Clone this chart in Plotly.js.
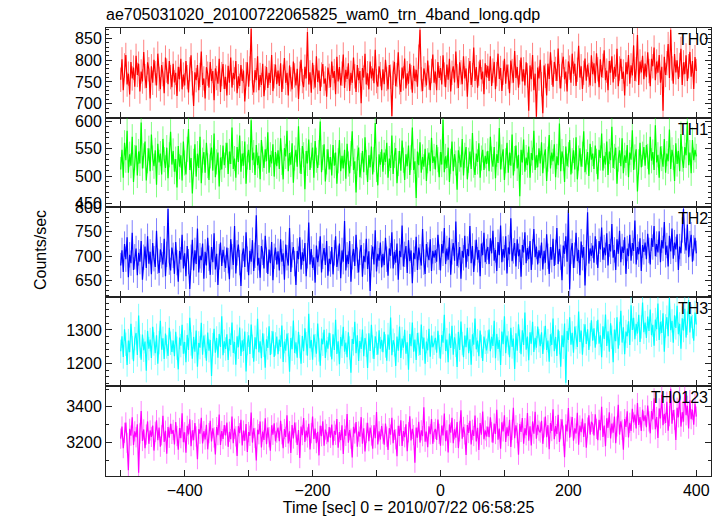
<!DOCTYPE html>
<html>
<head>
<meta charset="utf-8">
<script src="https://cdn.plot.ly/plotly-3.0.1.min.js"></script>
<style>html,body{margin:0;padding:0;background:#fff;}#chart{width:723px;height:516px;}</style>
</head>
<body>
<div id="chart"></div>
<script>
// ---- data: 2-second bins starting at t = -500 s ----
const timeStart = -500;
const binSize = 2;
const panelNames = ["TH0", "TH1", "TH2", "TH3", "TH0123"];

const th0 = [
755,802,731,788,812,744,769,721,796,758,783,739,810,766,792,728,774,751,819,763,736,795,779,712,786,748,801,770,742,815,757,733,789,768,724,806,776,745,798,761,738,
792,749,771,718,785,756,803,733,767,742,798,761,726,779,811,747,695,772,754,789,731,766,820,743,758,712,784,769,737,796,752,775,708,781,759,746,803,727,768,791,734,
762,719,787,748,806,737,771,756,798,724,763,741,789,752,776,705,768,795,739,781,872,748,726,777,754,809,731,766,743,792,717,759,784,736,771,748,812,729,763,790,745,
776,741,793,727,762,805,748,771,719,788,756,733,797,765,742,780,711,769,801,752,738,785,758,865,744,772,725,794,761,737,809,750,776,729,767,791,746,758,716,783,764,
738,797,759,775,722,808,751,784,742,769,813,736,778,757,793,729,771,748,806,763,727,789,754,775,701,782,760,815,744,770,733,797,758,781,747,824,752,739,786,768,731,
779,745,801,757,733,789,762,672,771,796,740,766,818,749,727,783,758,804,735,770,746,792,761,725,787,752,778,739,808,870,756,729,781,766,742,799,760,731,775,813,748,
774,731,796,759,782,744,811,767,738,790,755,803,728,771,786,749,820,763,736,795,772,745,809,758,781,716,777,798,743,766,829,752,784,737,769,801,756,774,722,793,761,
787,752,809,741,776,796,733,768,815,757,782,729,771,803,746,790,762,724,799,775,748,821,759,784,737,772,806,751,779,742,795,765,684,788,756,812,731,769,670,783,758,
801,745,678,788,764,719,792,757,818,771,739,796,780,752,827,763,735,789,808,756,774,728,797,783,748,815,769,792,741,778,833,760,786,734,771,804,753,790,766,742,811,
768,793,747,816,779,738,802,761,787,823,754,776,731,798,771,809,749,785,762,826,740,781,803,757,774,719,795,768,812,746,788,765,834,752,779,858,743,797,772,810,756,
792,761,818,775,740,803,786,829,754,797,771,812,748,785,684,808,766,793,837,759,870,781,746,814,772,800,757,789,826,743,795,768,811,752,786,819,762,798,734,807,775
];
const th1 = [
512,548,497,561,529,583,506,540,519,572,489,534,556,501,545,523,598,514,537,563,492,528,551,509,576,533,518,547,484,559,525,541,503,568,530,515,552,496,539,581,521,
546,508,531,479,555,517,538,492,563,524,503,549,586,511,533,468,527,558,499,541,515,572,487,529,544,506,561,519,493,537,552,510,578,498,526,543,481,534,512,556,520,
538,561,504,545,522,589,513,532,497,553,526,574,508,541,519,563,486,535,548,511,602,529,543,502,557,520,537,494,566,531,515,549,527,580,506,539,523,558,499,544,518,
547,513,569,525,494,551,536,583,509,542,521,560,488,533,548,517,591,528,504,555,539,476,546,523,567,511,538,552,497,564,529,515,543,600,507,534,558,490,526,549,512,
535,501,557,519,543,486,528,566,509,537,514,548,495,559,522,505,541,582,511,527,470,533,552,498,519,546,507,571,525,489,538,516,554,503,530,597,512,483,540,521,549,
508,543,526,561,497,532,515,574,504,538,551,487,523,546,510,565,529,493,540,518,556,502,534,589,511,527,460,545,520,562,506,535,517,550,491,528,543,509,570,524,536,
512,557,530,498,544,521,603,507,536,515,552,489,527,563,509,540,524,475,547,531,516,568,501,538,553,494,529,545,513,579,520,502,541,526,560,497,533,548,511,537,522,
546,509,572,531,517,553,496,540,524,588,512,535,549,493,528,561,506,543,519,576,501,532,556,514,539,463,548,525,567,508,534,520,554,497,542,529,583,511,538,516,551,
523,562,505,537,549,491,531,575,514,543,527,558,498,536,520,596,509,545,532,489,554,518,539,566,503,528,547,512,571,494,533,551,517,540,582,507,526,544,500,559,530,
541,513,556,527,494,548,533,578,510,537,521,563,502,545,529,590,515,536,552,486,531,547,518,569,505,538,524,557,498,543,530,584,511,535,549,472,526,561,516,540,553,
519,557,536,503,572,528,544,511,593,525,539,497,554,532,517,568,506,541,527,585,513,548,534,491,560,522,546,509,577,531,515,553,538,600,520,543,505,566,529,548,536
];
const th2 = [
681,712,668,725,694,739,657,703,686,748,672,699,716,661,707,689,731,652,698,720,676,741,685,709,663,727,695,678,752,690,666,714,701,683,736,659,704,797,688,671,718,
702,664,729,687,648,711,693,744,675,706,659,721,689,633,698,734,671,712,684,757,667,701,692,726,654,709,681,738,696,662,719,688,747,673,705,641,699,728,680,713,694,
676,718,691,653,735,699,682,762,665,707,724,687,639,703,716,678,749,694,661,711,689,733,670,702,784,681,697,656,721,708,675,742,692,664,714,686,729,651,700,718,683,
710,671,735,689,706,652,724,697,681,758,668,703,719,685,641,711,694,739,673,708,690,727,659,701,769,683,715,676,698,646,722,688,705,741,667,700,717,682,731,660,695,
684,719,663,707,741,678,696,726,655,712,689,772,671,703,684,731,648,699,715,680,744,692,667,708,723,658,701,688,736,674,710,629,697,720,683,753,669,705,691,728,677,
705,682,738,694,660,716,701,749,675,709,687,726,652,711,698,763,679,704,721,666,733,690,712,645,707,694,740,672,718,699,681,756,688,664,725,703,692,735,670,711,697,
712,689,744,698,671,725,706,758,684,716,693,738,662,709,727,691,771,680,703,719,654,711,697,742,677,715,700,762,686,721,668,707,734,693,713,659,726,702,748,688,710,
719,684,737,706,752,691,713,670,729,702,763,688,715,697,741,665,718,704,778,690,711,727,679,735,700,714,658,723,708,749,686,717,694,731,672,709,756,698,720,683,712,
696,728,673,711,687,745,700,664,719,693,736,680,708,758,684,715,698,651,722,705,741,689,795,632,710,727,676,702,748,690,713,661,730,697,719,640,707,790,685,716,701,
722,687,741,709,676,731,714,759,693,718,702,747,681,725,710,766,697,713,672,735,705,752,688,720,707,739,664,716,700,744,691,727,711,773,683,719,704,737,670,723,709,
728,694,746,712,683,737,719,762,700,725,708,751,688,733,716,770,703,722,679,742,710,757,695,728,714,745,672,720,706,754,797,731,712,765,698,726,744,689,717,738,706
];
const th3 = [
1236,1281,1219,1302,1257,1195,1268,1233,1318,1247,1206,1274,1291,1225,1343,1252,1211,1286,1239,1265,1178,1297,1244,1271,1216,1309,1258,1230,1284,1199,1262,1327,1241,1275,1213,1289,1249,1222,1306,1260,1234,
1268,1221,1294,1245,1182,1277,1253,1315,1229,1264,1203,1285,1240,1336,1258,1214,1279,1235,1298,1190,1261,1247,1321,1226,1283,1251,1208,1292,1238,1270,1162,1256,1303,1232,1276,1217,1288,1249,1341,1224,1266,
1243,1287,1210,1273,1255,1322,1231,1264,1196,1281,1248,1307,1222,1269,1237,1295,1176,1259,1284,1228,1316,1251,1205,1278,1242,1333,1233,1266,1215,1290,1254,1187,1272,1246,1311,1225,1262,1296,1219,1258,1280,
1227,1271,1249,1313,1204,1265,1238,1289,1256,1175,1276,1242,1328,1231,1263,1217,1294,1250,1199,1282,1236,1305,1259,1223,1348,1245,1270,1211,1286,1253,1229,1319,1240,1193,1274,1257,1300,1216,1268,1244,1291,
1255,1212,1287,1240,1330,1228,1266,1197,1279,1251,1309,1235,1262,1218,1293,1246,1172,1273,1258,1324,1230,1284,1207,1267,1243,1301,1221,1276,1254,1186,1290,1237,1315,1249,1213,1281,1260,1226,1299,1244,1270,
1233,1294,1252,1208,1286,1241,1337,1224,1269,1255,1192,1280,1238,1310,1216,1274,1247,1300,1229,1263,1181,1288,1251,1322,1235,1271,1210,1291,1257,1225,1316,1244,1277,1199,1265,1239,1303,1220,1283,1248,1260,
1276,1232,1297,1250,1214,1285,1262,1345,1237,1271,1203,1289,1246,1312,1226,1278,1254,1189,1294,1240,1325,1259,1218,1283,1248,1306,1230,1272,1196,1287,1256,1334,1242,1268,1221,1298,1251,1207,1280,1263,1239,
1264,1301,1236,1279,1252,1327,1215,1288,1243,1270,1195,1295,1257,1341,1230,1283,1261,1218,1306,1249,1274,1183,1290,1238,1317,1266,1227,1299,1255,1352,1241,1280,1209,1293,1259,1324,1234,1276,1247,1310,1268,
1251,1293,1228,1276,1312,1240,1268,1205,1287,1255,1334,1236,1279,1222,1301,1262,1190,1284,1248,1319,1142,1297,1270,1338,1256,1291,1232,1310,1277,1249,1355,1264,1298,1226,1283,1317,1258,1302,1240,1286,1329,
1268,1305,1247,1292,1330,1259,1284,1218,1311,1273,1346,1252,1296,1235,1320,1278,1203,1301,1266,1338,1244,1289,1357,1262,1308,1227,1295,1281,1326,1255,1374,1300,1336,1272,1318,1289,1345,1264,1309,1382,1293,
1322,1276,1340,1297,1361,1284,1315,1253,1331,1302,1379,1270,1324,1291,1350,1235,1312,1338,1281,1395,1299,1327,1262,1344,1306,1372,1287,1318,1244,1335,1298,1363,1277,1320,1389,1292,1341,1310,1268,1352,1316
];
const th0123 = [
3221,3289,3168,3254,3312,3197,3043,3276,3238,3341,3185,3262,3229,3302,3029,3251,3376,3208,3273,3167,3244,3318,3192,3267,3231,3295,3154,3259,3325,3212,3283,3176,3240,3350,3203,3266,3137,3287,3226,3305,3248,
3270,3188,3315,3236,3159,3281,3224,3364,3201,3257,3142,3293,3245,3330,3179,3268,3213,3309,3233,3106,3274,3249,3338,3194,3263,3217,3299,3161,3252,3321,3205,3279,3228,3132,3286,3241,3357,3186,3264,3219,3297,
3239,3312,3175,3260,3218,3346,3196,3277,3234,3124,3291,3252,3327,3183,3266,3209,3303,3146,3258,3237,3368,3199,3280,3225,3098,3271,3246,3318,3172,3261,3214,3335,3190,3284,3229,3153,3296,3243,3307,3206,3255,
3283,3207,3322,3246,3168,3275,3231,3353,3194,3263,3140,3298,3222,3311,3256,3186,3270,3112,3289,3241,3337,3203,3267,3228,3305,3160,3252,3345,3219,3278,3196,3260,3127,3294,3235,3319,3181,3272,3247,3201,3286,
3226,3301,3184,3265,3243,3332,3170,3258,3212,3296,3135,3274,3237,3360,3198,3269,3221,3115,3288,3250,3315,3176,3261,3232,3342,3193,3279,3149,3254,3310,3207,3284,3239,3165,3297,3224,3371,3188,3262,3216,3292,
3249,3187,3306,3232,3158,3280,3244,3339,3195,3271,3218,3122,3293,3236,3325,3180,3264,3229,3302,3151,3257,3347,3211,3276,3241,3086,3284,3227,3316,3199,3268,3235,3398,3204,3261,3173,3290,3246,3331,3192,3258,
3276,3214,3329,3248,3182,3295,3239,3362,3207,3268,3143,3301,3255,3338,3196,3274,3226,3314,3168,3262,3380,3221,3287,3245,3129,3298,3253,3322,3189,3271,3236,3351,3205,3282,3157,3309,3243,3374,3218,3267,3233,
3289,3229,3341,3257,3198,3306,3247,3384,3215,3278,3164,3313,3262,3352,3202,3285,3236,3327,3174,3271,3395,3224,3296,3253,3131,3304,3259,3337,3193,3280,3240,3365,3210,3291,3183,3318,3249,3372,3221,3299,3266,
3256,3321,3192,3284,3345,3229,3297,3162,3309,3264,3386,3218,3292,3247,3356,3203,3275,3330,3238,3117,3301,3262,3393,3226,3288,3343,3209,3279,3250,3366,3187,3295,3258,3334,3231,3307,3170,3283,3352,3244,3316,
3303,3239,3358,3276,3212,3327,3268,3401,3231,3295,3178,3336,3282,3370,3222,3306,3255,3346,3196,3290,3412,3244,3318,3271,3159,3331,3287,3375,3228,3310,3264,3389,3312,3356,3278,3421,3298,3342,3265,3384,3320,
3352,3286,3407,3318,3251,3376,3329,3448,3274,3343,3225,3391,3335,3468,3297,3361,3310,3429,3266,3348,3502,3305,3382,3327,3214,3395,3341,3460,3289,3370,3316,3490,3353,3406,3278,3437,3331,3384,3299,3419,3345
];
// constant 1-sigma error per band
const errors = [28, 23, 26, 35, 57];

// ---- styling ----
const seriesList = [th0, th1, th2, th3, th0123];
const lineColors = ["#ff0000", "#00ff00", "#0000ff", "#00ffff", "#ff00ff"];
const errColors = ["rgba(255,0,0,0.5)", "rgba(0,255,0,0.5)", "rgba(0,0,255,0.5)", "rgba(0,255,255,0.5)", "rgba(255,0,255,0.5)"];
const yRanges = [[668, 874], [443, 607], [617, 800.5], [1131, 1399], [3011, 3515]];
const yDticks = [50, 50, 50, 100, 200];
const yMinor = [10, 10, 10, 20, 100];
const FONT = "Liberation Sans, Arial, Helvetica, sans-serif";

const traces = [];
const layout = {
  width: 723, height: 516,
  margin: {l: 106, r: 12, t: 28, b: 40},
  paper_bgcolor: "#fff", plot_bgcolor: "#fff",
  showlegend: false,
  font: {family: FONT, size: 16, color: "#000"},
  title: {text: "ae705031020_20100722065825_wam0_trn_4band_long.qdp", x: 106/723, xanchor: "left", xref: "container",
          y: 1 - 14/516, yanchor: "middle", yref: "container", font: {family: FONT, size: 16, color: "#000"}},
  annotations: []
};

const n = panelNames.length;
for (let k = 0; k < n; k++) {
  const vals = seriesList[k];
  const xs = vals.map((_, i) => timeStart + binSize * i);
  const sfx = k === 0 ? "" : String(k + 1);
  traces.push({
    type: "scatter", mode: "lines", x: xs, y: vals,
    xaxis: "x" + sfx, yaxis: "y" + sfx,
    line: {color: lineColors[k], width: 1.2},
    error_y: {type: "constant", value: errors[k], color: errColors[k], thickness: 1, width: 0}
  });
  const top = 1 - k / n, bot = 1 - (k + 1) / n;
  layout["xaxis" + sfx] = {
    domain: [0, 1], anchor: "y" + sfx, range: [-523, 423],
    tickmode: "linear", tick0: 0, dtick: 200,
    ticks: "inside", ticklen: 6, tickwidth: 1, tickcolor: "#222",
    minor: {dtick: 100, ticks: "inside", ticklen: 6, tickwidth: 1, tickcolor: "#222"},
    showline: true, linecolor: "#222", linewidth: 1, mirror: "allticks",
    showgrid: false, zeroline: false,
    showticklabels: k === n - 1,
    tickfont: {family: FONT, size: 16, color: "#000"}
  };
  if (k !== 0) layout["xaxis" + sfx].matches = "x";
  layout["yaxis" + sfx] = {
    domain: [bot, top], anchor: "x" + sfx, range: yRanges[k],
    tickmode: "linear", tick0: 0, dtick: yDticks[k],
    ticks: "inside", ticklen: 6, tickwidth: 1, tickcolor: "#222",
    minor: {dtick: yMinor[k], ticks: "inside", ticklen: 3, tickwidth: 1, tickcolor: "#222"},
    showline: true, linecolor: "#222", linewidth: 1, mirror: "allticks",
    showgrid: false, zeroline: false,
    tickfont: {family: FONT, size: 16, color: "#000"}
  };
  layout.annotations.push({
    text: panelNames[k], xref: "paper", yref: "paper", x: 1, y: top,
    xanchor: "right", yanchor: "top", showarrow: false, xshift: -1, yshift: -1,
    font: {family: FONT, size: 16, color: "#000"}
  });
}
layout["xaxis" + n].title = {text: "Time [sec] 0 = 2010/07/22 06:58:25", standoff: 2, font: {family: FONT, size: 16, color: "#000"}};
layout.annotations.push({
  text: "Counts/sec", xref: "paper", yref: "paper", x: (40 - 106) / 605, y: (476 - 250) / 448,
  xanchor: "center", yanchor: "middle", textangle: -90, showarrow: false,
  font: {family: FONT, size: 16, color: "#000"}
});

Plotly.newPlot("chart", traces, layout, {staticPlot: true, displayModeBar: false});
</script>
</body>
</html>
